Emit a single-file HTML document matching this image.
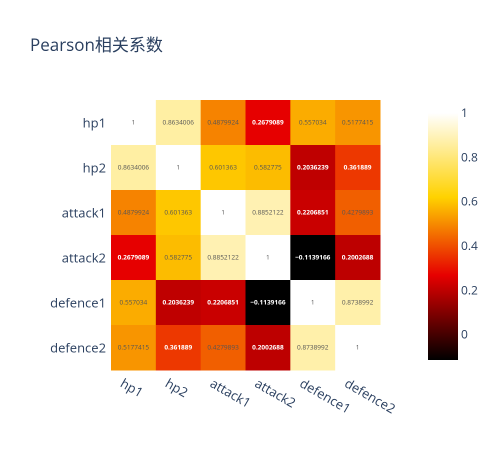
<!DOCTYPE html>
<html><head><meta charset="utf-8">
<style>
body{margin:0;background:#fff;}
svg{display:block;font-family:"Open Sans","Liberation Sans","Noto Sans CJK SC",sans-serif;}
</style></head>
<body>
<svg id="chart" width="499" height="450">
<text x="30" y="51" font-size="17" fill="#2a3f5f">Pearson相关系数</text>
<g id="cells"></g>
<g id="cbar"></g>
</svg>
<script>
const labels = ["hp1","hp2","attack1","attack2","defence1","defence2"];
const row0 = [1,0.8634006,0.4879924,0.2679089,0.557034,0.5177415];
const row1 = [0.8634006,1,0.601363,0.582775,0.2036239,0.361889];
const row2 = [0.4879924,0.601363,1,0.8852122,0.2206851,0.4279893];
const row3 = [0.2679089,0.582775,0.8852122,1,-0.1139166,0.2002688];
const row4 = [0.557034,0.2036239,0.2206851,-0.1139166,1,0.8738992];
const row5 = [0.5177415,0.361889,0.4279893,0.2002688,0.8738992,1];
const cbTicks = [0,0.2,0.4,0.6,0.8,1];
const rows = [row0,row1,row2,row3,row4,row5];
const NS="http://www.w3.org/2000/svg";
const zmin=-0.1139166, zmax=1;
const X0=111,X1=380,Y0=100,Y1=370;
const cw=(X1-X0)/labels.length, ch=(Y1-Y0)/labels.length;
const stops=[[0,[0,0,0]],[0.343,[230,0,0]],[0.659,[255,210,0]],[1,[255,255,255]]];
function color(v){
  let t=(v-zmin)/(zmax-zmin);t=Math.max(0,Math.min(1,t));
  for(let i=1;i<stops.length;i++){
    if(t<=stops[i][0]){const a=stops[i-1],b=stops[i];const f=(t-a[0])/(b[0]-a[0]);
      return 'rgb('+a[1].map((c,k)=>Math.round(c+(b[1][k]-c)*f)).join(',')+')';}
  }
  return 'rgb(255,255,255)';
}
function el(tag,attrs,parent){const e=document.createElementNS(NS,tag);for(const k in attrs)e.setAttribute(k,attrs[k]);parent.appendChild(e);return e;}
const cells=document.getElementById('cells');
rows.forEach((r,i)=>{
  r.forEach((v,j)=>{
    const rc=el('rect',{x:X0+j*cw,y:Y0+i*ch,width:cw+0.5,height:ch+0.5,fill:color(v)},cells);
    
    
    const dark=v<0.4;
    const tx=el('text',{x:X0+(j+0.5)*cw,y:Y0+(i+0.5)*ch+2,'font-size':'6.5','text-anchor':'middle',fill:dark?'#fff':'#555','font-weight':dark?'bold':'normal'},cells);
    tx.textContent=String(v).replace('-','−');
    
    
  });
});
labels.forEach((l,i)=>{
  const t=el('text',{x:X0-5,y:Y0+(i+0.5)*ch+5,'font-size':'13','text-anchor':'end',fill:'#2a3f5f'},cells);
  t.textContent=l;
  
  
  const cx=X0+(i+0.5)*cw-14, cy=Y1+16;
  const u=el('text',{x:cx,y:cy,'font-size':'13','text-anchor':'start',fill:'#2a3f5f',transform:'rotate(30 '+cx+' '+cy+')'},cells);
  u.textContent=l;
  
  
});
const cb=document.getElementById('cbar');
const CB0=113,CB1=360,CBX=428,CBW=30;
const defs=el('defs',{},cb);
const g=el('linearGradient',{id:'hot',x1:0,y1:1,x2:0,y2:0},defs);
stops.forEach(s=>el('stop',{offset:s[0],'stop-color':'rgb('+s[1].join(',')+')'},g));
const bar=el('rect',{x:CBX,y:CB0,width:CBW,height:CB1-CB0,fill:'url(#hot)'},cb);


cbTicks.forEach(v=>{
  const y=CB1-(v-zmin)/(zmax-zmin)*(CB1-CB0);
  const t=el('text',{x:CBX+CBW+3,y:y+4,'font-size':'12',fill:'#2a3f5f'},cb);
  t.textContent=String(v);
  
  
});
</script>
</body></html>
